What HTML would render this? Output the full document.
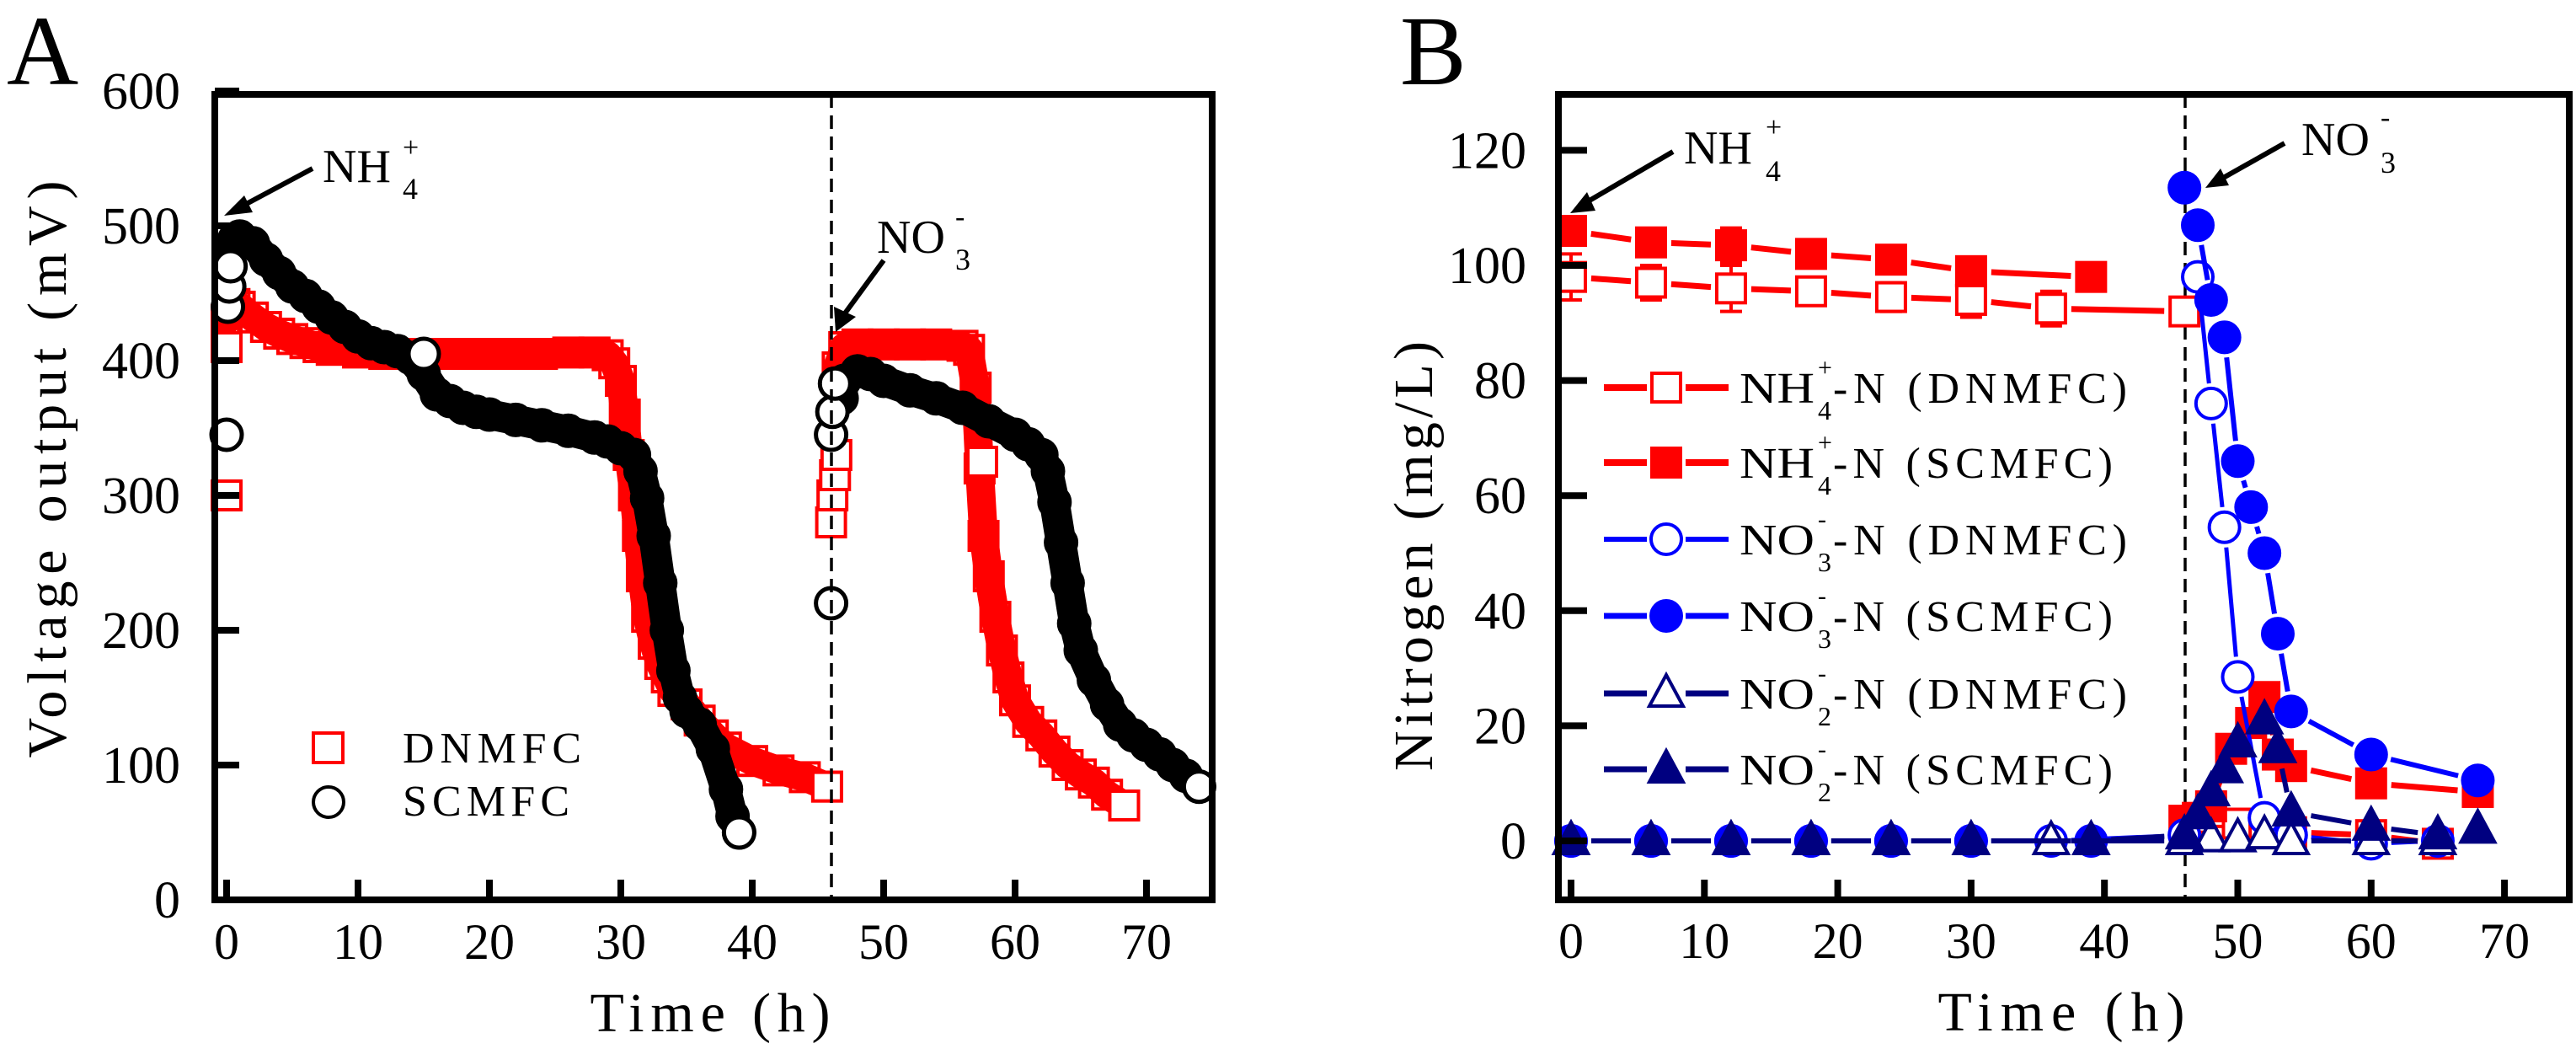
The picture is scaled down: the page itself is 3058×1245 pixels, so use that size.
<!DOCTYPE html>
<html><head><meta charset="utf-8">
<style>
html,body{margin:0;padding:0;background:#fff;}
svg{display:block;font-family:"Liberation Serif",serif;}
</style></head>
<body>
<svg id="fig" width="3058" height="1245" viewBox="0 0 3058 1245" xmlns="http://www.w3.org/2000/svg">
  <rect x="0" y="0" width="3058" height="1245" fill="#fff"/>
  <g id="panelA">
    <text x="8" y="100" font-size="118">A</text>
    <g id="aMarks"></g>
    <line x1="987" y1="112" x2="987" y2="1066" stroke="#000" stroke-width="3.5" stroke-dasharray="16,9"/>
    <rect x="255" y="112" width="1184" height="956" fill="none" stroke="#000" stroke-width="8"/>
    <g id="aAxes"></g>
    <text x="843" y="1224" font-size="66" text-anchor="middle" textLength="285" lengthAdjust="spacing">Time (h)</text>
    <text transform="translate(78,557) rotate(-90)" font-size="66" text-anchor="middle" textLength="685" lengthAdjust="spacing">Voltage output (mV)</text>
    <g>
      <text x="383" y="216" font-size="56">NH</text>
      <text x="478" y="186" font-size="34">+</text>
      <text x="478" y="236" font-size="36">4</text>
      <line x1="371" y1="200" x2="285" y2="246" stroke="#000" stroke-width="6"/>
      <polygon points="266,256 290,232 300,252" fill="#000"/>
    </g>
    <g>
      <text x="1041" y="300" font-size="56">NO</text>
      <text x="1134" y="268" font-size="34">-</text>
      <text x="1134" y="320" font-size="36">3</text>
      <line x1="1049" y1="309" x2="1000" y2="376" stroke="#000" stroke-width="6"/>
      <polygon points="992,394 990,364 1016,376" fill="#000"/>
    </g>
    <g>
      <rect x="372" y="870" width="35" height="35" fill="none" stroke="#f00" stroke-width="4"/>
      <text x="478" y="905" font-size="52" textLength="212" lengthAdjust="spacing">DNMFC</text>
      <circle cx="390" cy="952" r="18" fill="none" stroke="#000" stroke-width="4"/>
      <text x="478" y="968" font-size="52" textLength="198" lengthAdjust="spacing">SCMFC</text>
    </g>
  </g>

  <g id="panelB">
    <text x="1662" y="100" font-size="118">B</text>
    <line x1="2594" y1="112" x2="2594" y2="1066" stroke="#000" stroke-width="3.5" stroke-dasharray="16,9"/>
    <g id="bMarks"></g>
    <rect x="1850" y="112" width="1200" height="956" fill="none" stroke="#000" stroke-width="8"/>
    <g id="bAxes"></g>
    <text x="2447" y="1223" font-size="66" text-anchor="middle" textLength="293" lengthAdjust="spacing">Time (h)</text>
    <text transform="translate(1700,660) rotate(-90)" font-size="66" text-anchor="middle" textLength="510" lengthAdjust="spacing">Nitrogen (mg/L)</text>
    <g>
      <text x="1999" y="194" font-size="56">NH</text>
      <text x="2096" y="162" font-size="34">+</text>
      <text x="2096" y="215" font-size="36">4</text>
      <line x1="1986" y1="180" x2="1880" y2="242" stroke="#000" stroke-width="6"/>
      <polygon points="1864,253 1884,228 1894,250" fill="#000"/>
    </g>
    <g>
      <text x="2732" y="184" font-size="56">NO</text>
      <text x="2826" y="150" font-size="34">-</text>
      <text x="2826" y="205" font-size="36">3</text>
      <line x1="2712" y1="170" x2="2634" y2="214" stroke="#000" stroke-width="6"/>
      <polygon points="2618,223 2636,200 2646,220" fill="#000"/>
    </g>
    <g id="bLegend"></g>
  </g>
</svg>
<script>
// ---------- Panel A data ----------
const aXTicks = [0,10,20,30,40,50,60,70];
const aYTicks = [0,100,200,300,400,500,600];
const dnC1T = [0,0.3,0.6,1,2,3,4,5,6,7,8,10,12,14,16,18,20,22,24,26,28,29,29.5,30,30.3,30.6,31,31.3,31.6,32,32.5,33,33.5,34,35,36,37,38,40,42,44,45.7];
const dnC1V = [430,440,442,440,432,425,420,416,413,410,408,406,405,405,405,405,405,405,405,406,406,404,398,385,360,330,300,270,240,210,190,175,165,155,145,133,122,113,103,96,91,84];
const dnC2T = [46.5,47,48,50,52,54,56,56.5,57,57.3,57.6,58,58.5,59,59.5,60,61,62,63,64,65,66,67,68.3];
const dnC2V = [395,410,412,412,412,412,411,408,380,320,270,240,210,185,165,148,132,122,110,100,93,87,78,70];
const dnOutT = [0,0,46,46.1,46.3,46.4,57.5];
const dnOutV = [300,410,280,300,315,330,325];
const scC1T = [0.3,0.6,1,2,3,4,5,6,7,8,9,10,11,12,13,14,15,16,17,18,19,20,22,24,26,28,29,30,31,31.5,32,32.5,33,33.5,34,34.5,35,36,37,38,38.5,39];
const scC1V = [485,490,492,487,475,465,455,448,440,432,425,418,413,410,407,402,390,375,370,365,362,360,356,352,348,343,340,335,330,318,298,270,235,200,170,150,140,130,112,82,62,50];
const scC2T = [46.8,47,48,49,50,52,54,56,58,60,61,62,62.5,63,63.5,64,64.5,65,66,67,68,69,70,71,72,73,74];
const scC2V = [372,385,392,390,385,378,372,365,355,345,338,330,318,295,265,235,205,185,163,145,130,122,115,108,100,92,84];
const scOutT = [0,0.1,0.2,0.3,15,46,46,46.1,46.3];
const scOutV = [345,440,455,470,405,220,345,362,383];

// ---------- Panel B data ----------
const bXTicks = [0,10,20,30,40,50,60,70];
const bYTicks = [0,20,40,60,80,100,120];
const nh4DT = [0,6,12,18,24,30,36,46,47,48,50,52,54,60,65];
const nh4DV = [98,97,96,95.5,94.5,94,92.5,92,4,5,3,2,1.5,1,-0.5];
const nh4DE = [4,3,4,2,2.5,3,3,0,1,1,1,1,1,1,1];
const nh4ST = [0,6,12,18,24,30,39,46,48,49.5,51,52,53,54,60,68];
const nh4SV = [106,104,103.5,102,101,99,98,3.5,6,16,20.5,25,15,13,10,8.5];
const nh4SE = [1,1,3,1,1,1,1,1,1,1,1,1,1,1,1,1];
const no3DT = [0,6,12,18,24,30,36,46,47,48,49,50,52,54,60,65];
const no3DV = [0,0,0,0,0,0,0,1,98,76,54.5,28.5,4,1,-0.5,0];
const no3DE = [0,0,0,0,0,0,0,0,1,1,1,1,1,1,1,0];
const no3ST = [0,6,12,18,24,30,39,46,47,48,49,50,51,52,53,54,60,68];
const no3SV = [0,0,0,0,0,0,0,113.5,107,94,87.5,66,58,50,36,22.5,15,10.5];
const no3SE = [0,0,0,0,0,0,0,0,0,1,1,1,2,2,1,1,2,1];
const no2DT = [0,6,12,18,24,30,36,46,48,50,52,54,60,65];
const no2DV = [0,0,0,0,0,0,0,0,0.5,0.5,1,0,0,0];
const no2ST = [0,6,12,18,24,30,39,46,47,48,49,50,52,53,54,60,65,68];
const no2SV = [0,0,0,0,0,0,0,1,4.5,8.5,12.5,17,21,16,5,2.5,1,2];
// phase boundary (h): segments that cross it are not drawn
const nh4DBreak = 46.5, nh4SBreak = 45, no3DBreak = 46.5, no3SBreak = 45.5, no2DBreak = 999, no2SBreak = 999;

const NS = 'http://www.w3.org/2000/svg';
function mk(tag, parent){ const e = document.createElementNS(NS, tag); parent.appendChild(e); return e; }

const xA = h => 269 + 15.6*h;
const yA = v => 1068 - 1.6*v;
const xB = h => 1865 + 15.83*h;
const yB = v => 998 - 6.83*v;

// ---------- Panel A axes ----------
const aAx = document.getElementById('aAxes');
aXTicks.forEach(t => {
  const l = mk('line', aAx);
  
  
  l.setAttribute('x1', xA(t)); l.setAttribute('x2', xA(t));
  l.setAttribute('y1', 1068); l.setAttribute('y2', 1044);
  l.setAttribute('stroke', '#000'); l.setAttribute('stroke-width', 8);
  const tx = mk('text', aAx);
  
  
  tx.setAttribute('x', xA(t)); tx.setAttribute('y', 1138);
  tx.setAttribute('font-size', 60); tx.setAttribute('text-anchor', 'middle');
  tx.textContent = t;
});
aYTicks.forEach(v => {
  const l = mk('line', aAx);
  
  
  l.setAttribute('x1', 255); l.setAttribute('x2', 284);
  l.setAttribute('y1', yA(v)); l.setAttribute('y2', yA(v));
  l.setAttribute('stroke', '#000'); l.setAttribute('stroke-width', 8);
  const tx = mk('text', aAx);
  
  
  tx.setAttribute('x', 214); tx.setAttribute('y', yA(v) + 21);
  tx.setAttribute('font-size', 62); tx.setAttribute('text-anchor', 'end');
  tx.textContent = v;
});

// ---------- Panel A marks ----------
const aM = document.getElementById('aMarks');
function band(T, V, color, w, name){
  const p = mk('polyline', aM);
  
  
  p.setAttribute('points', T.map((t,i)=> xA(t)+','+yA(V[i])).join(' '));
  p.setAttribute('fill', 'none'); p.setAttribute('stroke', color);
  p.setAttribute('stroke-width', w); p.setAttribute('stroke-linejoin', 'round'); p.setAttribute('stroke-linecap', 'round');
}
function squaresA(T, V, fill){
  T.forEach((t,i) => {
    const r = mk('rect', aM);
    
    
    r.setAttribute('x', xA(t)-17); r.setAttribute('y', yA(V[i])-17);
    r.setAttribute('width', 34); r.setAttribute('height', 34);
    r.setAttribute('fill', fill); r.setAttribute('stroke', '#f00'); r.setAttribute('stroke-width', 4);
  });
}
function circlesA(T, V, fill){
  T.forEach((t,i) => {
    const c = mk('circle', aM);
    
    
    c.setAttribute('cx', xA(t)); c.setAttribute('cy', yA(V[i])); c.setAttribute('r', 18);
    c.setAttribute('fill', fill); c.setAttribute('stroke', '#000'); c.setAttribute('stroke-width', 5);
  });
}
band(dnC1T, dnC1V, '#f00', 34, 'dnmfc-cycle1-band');
band(dnC2T, dnC2V, '#f00', 34, 'dnmfc-cycle2-band');
squaresA(dnC1T, dnC1V, 'none');
squaresA(dnC2T, dnC2V, 'none');
squaresA(dnOutT, dnOutV, '#fff');
squaresA([dnC1T[dnC1T.length-1], dnC2T[dnC2T.length-1]], [dnC1V[dnC1V.length-1], dnC2V[dnC2V.length-1]], '#fff');
band(scC1T, scC1V, '#000', 36, 'scmfc-cycle1-band');
band(scC2T, scC2V, '#000', 36, 'scmfc-cycle2-band');
circlesA(scC1T, scC1V, 'none');
circlesA(scC2T, scC2V, 'none');
circlesA(scOutT, scOutV, '#fff');
circlesA([scC1T[scC1T.length-1], scC2T[scC2T.length-1]], [scC1V[scC1V.length-1], scC2V[scC2V.length-1]], '#fff');

// ---------- Panel B axes ----------
const bAx = document.getElementById('bAxes');
bXTicks.forEach(t => {
  const l = mk('line', bAx);
  
  
  l.setAttribute('x1', xB(t)); l.setAttribute('x2', xB(t));
  l.setAttribute('y1', 1068); l.setAttribute('y2', 1044);
  l.setAttribute('stroke', '#000'); l.setAttribute('stroke-width', 8);
  const tx = mk('text', bAx);
  
  
  tx.setAttribute('x', xB(t)); tx.setAttribute('y', 1137);
  tx.setAttribute('font-size', 60); tx.setAttribute('text-anchor', 'middle');
  tx.textContent = t;
});
bYTicks.forEach(v => {
  const l = mk('line', bAx);
  
  
  l.setAttribute('x1', 1850); l.setAttribute('x2', 1884);
  l.setAttribute('y1', yB(v)); l.setAttribute('y2', yB(v));
  l.setAttribute('stroke', '#000'); l.setAttribute('stroke-width', 8);
  const tx = mk('text', bAx);
  
  
  tx.setAttribute('x', 1812); tx.setAttribute('y', yB(v) + 21);
  tx.setAttribute('font-size', 62); tx.setAttribute('text-anchor', 'end');
  tx.textContent = v;
});

// ---------- Panel B marks ----------
const bM = document.getElementById('bMarks');
function segs(T, V, brk, color, w, name){
  for (let i=0;i<T.length-1;i++){
    if (T[i] < brk && T[i+1] >= brk) continue;
    const x1=xB(T[i]), y1=yB(V[i]), x2=xB(T[i+1]), y2=yB(V[i+1]);
    const d=Math.hypot(x2-x1,y2-y1), g=24;
    if (d <= 2*g) continue;
    const ux=(x2-x1)/d, uy=(y2-y1)/d;
    const l = mk('line', bM);
    
    
    l.setAttribute('x1', x1+ux*g); l.setAttribute('y1', y1+uy*g);
    l.setAttribute('x2', x2-ux*g); l.setAttribute('y2', y2-uy*g);
    l.setAttribute('stroke', color); l.setAttribute('stroke-width', w);
  }
}
function errs(T, V, E, color){
  T.forEach((t,i) => {
    if (!E[i]) return;
    const x=xB(t), y1=yB(V[i]+E[i]), y2=yB(V[i]-E[i]);
    const p = mk('path', bM);
    
    
    p.setAttribute('d', `M${x},${y1}V${y2}M${x-13},${y1}H${x+13}M${x-13},${y2}H${x+13}`);
    p.setAttribute('stroke', color); p.setAttribute('stroke-width', 4); p.setAttribute('fill', 'none');
  });
}
function marker(parent, kind, x, y, color, filled, name){
  let e;
  if (kind==='sq'){ e = mk('rect', parent); e.setAttribute('x', x-17); e.setAttribute('y', y-17); e.setAttribute('width', 34); e.setAttribute('height', 34); }
  else if (kind==='ci'){ e = mk('circle', parent); e.setAttribute('cx', x); e.setAttribute('cy', y); e.setAttribute('r', 18); }
  else { e = mk('polygon', parent); e.setAttribute('points', `${x},${y-22} ${x-20},${y+15} ${x+20},${y+15}`); }
  
  
  e.setAttribute('fill', filled ? color : '#fff');
  e.setAttribute('stroke', color); e.setAttribute('stroke-width', 4);
}
const series = [
  {T:nh4DT, V:nh4DV, E:nh4DE, B:nh4DBreak, c:'#ff0000', w:7, k:'sq', f:false, n:'nh4-dnmfc'},
  {T:nh4ST, V:nh4SV, E:nh4SE, B:nh4SBreak, c:'#ff0000', w:7, k:'sq', f:true,  n:'nh4-scmfc'},
  {T:no3DT, V:no3DV, E:no3DE, B:no3DBreak, c:'#0000ff', w:5, k:'ci', f:false, n:'no3-dnmfc'},
  {T:no3ST, V:no3SV, E:no3SE, B:no3SBreak, c:'#0000ff', w:6, k:'ci', f:true,  n:'no3-scmfc'},
  {T:no2DT, V:no2DV, E:null,  B:no2DBreak, c:'#000080', w:6, k:'tr', f:false, n:'no2-dnmfc'},
  {T:no2ST, V:no2SV, E:null,  B:no2SBreak, c:'#000080', w:6, k:'tr', f:true,  n:'no2-scmfc'}
];
series.forEach(s => {
  segs(s.T, s.V, s.B, s.c, s.w, s.n + '-line');
  if (s.E) errs(s.T, s.V, s.E, s.c);
  s.T.forEach((t,i) => marker(bM, s.k, xB(t), yB(s.V[i]), s.c, s.f, s.n + '-point'));
});

// ---------- Panel B legend ----------
const lg = document.getElementById('bLegend');
const legY = [460, 549, 640, 731, 823, 913];
const legMain = ['NH','NH','NO','NO','NO','NO'];
const legSup = ['+','+','-','-','-','-'];
const legSub = ['4','4','3','3','2','2'];
const legTail = ['-N (DNMFC)','-N (SCMFC)','-N (DNMFC)','-N (SCMFC)','-N (DNMFC)','-N (SCMFC)'];
series.forEach((s, i) => {
  const y = legY[i];
  const l = mk('path', lg);
  
  
  l.setAttribute('d', `M1904,${y}H1955M2001,${y}H2052`);
  l.setAttribute('stroke', s.c); l.setAttribute('stroke-width', s.w+1);
  marker(lg, s.k, 1978, y, s.c, s.f, 'legend-marker');
  const t1 = mk('text', lg);
  
  
  t1.setAttribute('x', 2065); t1.setAttribute('y', y+18); t1.setAttribute('font-size', 52);
  t1.setAttribute('textLength', 89); t1.setAttribute('lengthAdjust', 'spacingAndGlyphs');
  t1.textContent = legMain[i];
  const t2 = mk('text', lg);
  
  
  t2.setAttribute('x', 2158); t2.setAttribute('y', y-14); t2.setAttribute('font-size', 30);
  t2.textContent = legSup[i];
  const t3 = mk('text', lg);
  
  
  t3.setAttribute('x', 2158); t3.setAttribute('y', y+38); t3.setAttribute('font-size', 32);
  t3.textContent = legSub[i];
  const t4 = mk('text', lg);
  
  
  t4.setAttribute('x', 2176); t4.setAttribute('y', y+18); t4.setAttribute('font-size', 52);
  t4.setAttribute('textLength', i%2===0 ? 349 : 332); t4.setAttribute('lengthAdjust', 'spacing');
  t4.textContent = legTail[i];
});
</script>
</body></html>
